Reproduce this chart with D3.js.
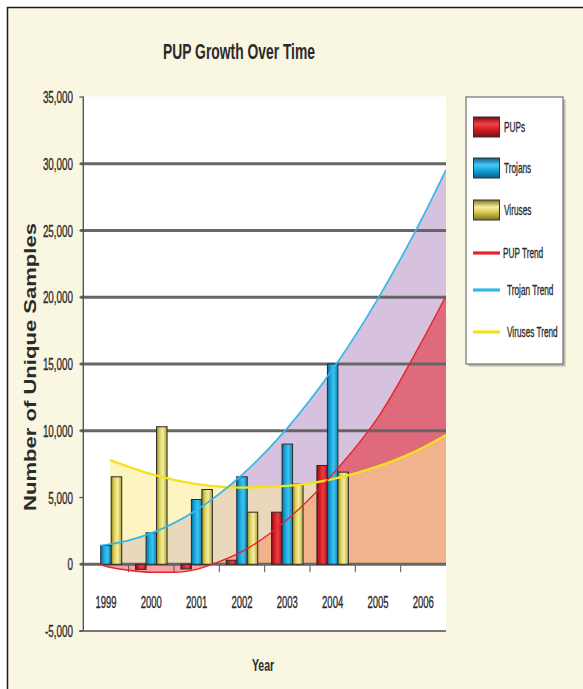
<!DOCTYPE html>
<html>
<head>
<meta charset="utf-8">
<script src="https://cdn.jsdelivr.net/npm/d3@7"></script>
<style>
  html, body { margin: 0; padding: 0; background: #ffffff; }
  svg { display: block; }
  text { font-family: "Liberation Sans", Arial, sans-serif; fill: #2b2b2b; }
  .thick { stroke: #2b2b2b; stroke-width: 0.35px; }
</style>
</head>
<body>
<svg id="chart" width="583" height="689"></svg>
<script>
// ---- data ----
const years = [1999, 2000, 2001, 2002, 2003, 2004, 2005, 2006];
const seriesNames = ["PUPs", "Trojans", "Viruses"];
const pupValues = [0, -380, -350, 300, 3900, 7400, null, null];
const trojanValues = [1400, 2350, 4850, 6550, 9000, 15000, null, null];
const virusValues = [6550, 10300, 5600, 3900, 6000, 6900, null, null];

// trend curves: [year position, value]
const pupTrend = [[1998.87, 0], [1999, -150], [1999.5, -450], [2000, -600], [2000.5, -600],
  [2001, -380], [2001.5, 200], [2002, 950], [2003, 3350], [2004, 6750], [2005, 11000],
  [2006, 16900], [2006.5, 20100]];
const trojanTrend = [[1998.89, 1420], [1999, 1460], [2000, 2330], [2001, 4070], [2002, 6700],
  [2003, 10200], [2004, 14600], [2005, 19900], [2006, 26100], [2006.5, 29550]];
const virusTrend = [[1999.09, 7800], [2000, 6750], [2001, 6000], [2002, 5740], [2003, 5870],
  [2004, 6380], [2005, 7330], [2006, 8750], [2006.5, 9680]];

const yTicks = [-5000, 0, 5000, 10000, 15000, 20000, 25000, 30000, 35000];
const gridValues = [0, 10000, 15000, 20000, 25000, 30000];
const legendItems = [
  { label: "PUPs", kind: "bar", key: "pup" },
  { label: "Trojans", kind: "bar", key: "trojan" },
  { label: "Viruses", kind: "bar", key: "virus" },
  { label: "PUP Trend", kind: "line", key: "pup" },
  { label: "Trojan Trend", kind: "line", key: "trojan" },
  { label: "Viruses Trend", kind: "line", key: "virus" }
];

// ---- layout ----
const W = 583, H = 689;
const plot = { left: 83.3, right: 446, top: 96.5, bottom: 631 };
const lineColor = { pup: "#e8232e", trojan: "#33b8e8", virus: "#f6e11c" };
const lineWidth = { pup: 1.4, trojan: 1.7, virus: 2.3 };

const svg = d3.select("#chart");
const defs = svg.append("defs");

// helper for condensed text
function ctext(g, str, x, y, size, sx, anchor, weight) {
  return g.append("text")
    .attr("class", weight === "bold" ? null : "thick")
    .attr("transform", `translate(${x},${y}) scale(${sx},1)`)
    .attr("text-anchor", anchor || "start")
    .attr("font-size", size)
    .attr("font-weight", weight || "normal")
    .text(str);
}

// page frame
svg.append("rect").attr("x", 0).attr("y", 0).attr("width", W).attr("height", H).attr("fill", "#ffffff");
svg.append("rect").attr("x", 7.5).attr("y", 7.5).attr("width", W + 10).attr("height", H + 10)
  .attr("fill", "#f9f6e1").attr("stroke", "#1e1e1e").attr("stroke-width", 1.5);

// scales
const x = d3.scaleBand().domain(years).range([plot.left, plot.right]).padding(0);
const bw = x.bandwidth();
const xl = d3.scaleLinear().domain([1999, 2006])
  .range([x(1999) + bw / 2, x(2006) + bw / 2]);
const y = d3.scaleLinear().domain([-5000, 35000]).range([plot.bottom, plot.top + 0.5]);
const groupW = 31.5;
const xs = d3.scaleBand().domain(seriesNames).range([-groupW / 2, groupW / 2]).padding(0);

// plot background
svg.append("rect").attr("x", plot.left).attr("y", plot.top)
  .attr("width", plot.right - plot.left).attr("height", plot.bottom - plot.top)
  .attr("fill", "#ffffff");

// trend areas
const area = d3.area().x(d => xl(d[0])).y0(y(0)).y1(d => y(d[1])).curve(d3.curveMonotoneX);
const line = d3.line().x(d => xl(d[0])).y(d => y(d[1])).curve(d3.curveMonotoneX);

defs.append("clipPath").attr("id", "clipTrojan").append("path").attr("d", area(trojanTrend));
defs.append("clipPath").attr("id", "clipVirus").append("path").attr("d", area(virusTrend));
defs.append("clipPath").attr("id", "clipAbove").append("rect")
  .attr("x", plot.left).attr("y", plot.top).attr("width", plot.right - plot.left).attr("height", y(0) - plot.top);
defs.append("clipPath").attr("id", "clipBelow").append("rect")
  .attr("x", plot.left).attr("y", y(0)).attr("width", plot.right - plot.left).attr("height", plot.bottom - y(0));
defs.append("clipPath").attr("id", "clipPlot").append("rect")
  .attr("x", plot.left).attr("y", plot.top).attr("width", plot.right - plot.left).attr("height", plot.bottom - plot.top);

const fills = svg.append("g").attr("clip-path", "url(#clipPlot)");
fills.append("path").attr("d", area(trojanTrend)).attr("fill", "#d6c2de");
fills.append("path").attr("d", area(virusTrend)).attr("fill", "#fcf5c2");
fills.append("path").attr("d", area(virusTrend)).attr("fill", "#e9d8bc").attr("clip-path", "url(#clipTrojan)");
const above = fills.append("g").attr("clip-path", "url(#clipAbove)");
above.append("path").attr("d", area(pupTrend)).attr("fill", "#de6a7b");
above.append("path").attr("d", area(pupTrend)).attr("fill", "#f0b38b").attr("clip-path", "url(#clipVirus)");
fills.append("g").attr("clip-path", "url(#clipBelow)")
  .append("path").attr("d", area(pupTrend)).attr("fill", "#f5a3a7");

// gridlines
svg.append("g").selectAll("line").data(gridValues).join("line")
  .attr("x1", plot.left - 3).attr("x2", plot.right)
  .attr("y1", d => y(d)).attr("y2", d => y(d))
  .attr("stroke", "#666666").attr("stroke-width", 2.8);

// category ticks along the zero line
svg.append("g").selectAll("line").data(years.slice(1)).join("line")
  .attr("x1", d => x(d)).attr("x2", d => x(d))
  .attr("y1", y(0) + 1).attr("y2", y(0) + 8)
  .attr("stroke", "#555").attr("stroke-width", 1);

// bar gradients
function hGrad(id, stops) {
  const g = defs.append("linearGradient").attr("id", id).attr("x1", 0).attr("x2", 1).attr("y1", 0).attr("y2", 0);
  stops.forEach(s => g.append("stop").attr("offset", s[0]).attr("stop-color", s[1]));
}
function vGrad(id, stops) {
  const g = defs.append("linearGradient").attr("id", id).attr("x1", 0).attr("x2", 0).attr("y1", 0).attr("y2", 1);
  stops.forEach(s => g.append("stop").attr("offset", s[0]).attr("stop-color", s[1]));
}
hGrad("gPup", [[0, "#8e0d12"], [0.3, "#d71f28"], [0.6, "#ee3d44"], [1, "#a3131b"]]);
hGrad("gTrojan", [[0, "#0a6d9c"], [0.3, "#16a6de"], [0.6, "#3fc3f0"], [1, "#0c86b8"]]);
hGrad("gVirus", [[0, "#968a22"], [0.3, "#ddd25c"], [0.6, "#f4eea2"], [1, "#b0a334"]]);
vGrad("lPup", [[0, "#7a0a0e"], [0.35, "#f2424a"], [0.6, "#d71f28"], [1, "#7d0b10"]]);
vGrad("lTrojan", [[0, "#0a5d86"], [0.35, "#4cc8f2"], [0.6, "#16a6de"], [1, "#0a5d86"]]);
vGrad("lVirus", [[0, "#7d7318"], [0.35, "#f4eea2"], [0.6, "#d8cc55"], [1, "#7d7318"]]);

const barSeries = [
  { name: "PUPs", values: pupValues, fill: "url(#gPup)" },
  { name: "Trojans", values: trojanValues, fill: "url(#gTrojan)" },
  { name: "Viruses", values: virusValues, fill: "url(#gVirus)" }
];
const bars = svg.append("g");
barSeries.forEach(s => {
  const pts = years.map((yr, i) => ({ yr, v: s.values[i] })).filter(d => d.v !== null && d.v !== 0);
  bars.append("g").selectAll("rect").data(pts).join("rect")
    .attr("x", d => x(d.yr) + bw / 2 + xs(s.name))
    .attr("width", xs.bandwidth())
    .attr("y", d => Math.min(y(d.v), y(0)))
    .attr("height", d => Math.abs(y(d.v) - y(0)))
    .attr("fill", s.fill)
    .attr("stroke", "#2a2a2a").attr("stroke-width", 1);
});

// trend lines
const trendG = svg.append("g").attr("clip-path", "url(#clipPlot)").attr("fill", "none");
trendG.append("path").attr("d", line(virusTrend)).attr("stroke", lineColor.virus).attr("stroke-width", lineWidth.virus);
trendG.append("path").attr("d", line(trojanTrend)).attr("stroke", lineColor.trojan).attr("stroke-width", lineWidth.trojan);
trendG.append("path").attr("d", line(pupTrend)).attr("stroke", lineColor.pup).attr("stroke-width", lineWidth.pup);

// axes frame
svg.append("line").attr("x1", plot.left).attr("x2", plot.left).attr("y1", plot.top).attr("y2", plot.bottom + 1)
  .attr("stroke", "#555").attr("stroke-width", 1.4);
svg.append("line").attr("x1", plot.left - 4).attr("x2", plot.right).attr("y1", plot.bottom).attr("y2", plot.bottom)
  .attr("stroke", "#777").attr("stroke-width", 2.2);
svg.append("g").selectAll("line").data(yTicks).join("line")
  .attr("x1", plot.left - 4).attr("x2", plot.left)
  .attr("y1", d => y(d)).attr("y2", d => y(d))
  .attr("stroke", "#555").attr("stroke-width", 1.2);

// y tick labels (plain hyphen for negatives)
const fmt = v => d3.format(",")(Math.abs(v)).replace(/^/, v < 0 ? "-" : "");
const yLab = svg.append("g");
yTicks.forEach(v => ctext(yLab, fmt(v), 73, y(v) + 6, 17, 0.58, "end"));

// x tick labels
const xLab = svg.append("g");
years.forEach(yr => ctext(xLab, String(yr), x(yr) + bw / 2, 608, 17, 0.56, "middle"));

// titles
ctext(svg, "PUP Growth Over Time", 239, 59, 21.5, 0.645, "middle", "bold");
ctext(svg, "Year", 263, 671, 17, 0.62, "middle", "bold");
svg.append("text")
  .attr("transform", "translate(36,367) rotate(-90)")
  .attr("text-anchor", "middle")
  .attr("font-size", 16.5).attr("font-weight", "bold")
  .attr("textLength", 288).attr("lengthAdjust", "spacingAndGlyphs")
  .text("Number of Unique Samples");

// legend
const lg = svg.append("g");
lg.append("rect").attr("x", 467).attr("y", 98).attr("width", 97).attr("height", 267)
  .attr("fill", "#b9b9b0").attr("transform", "translate(1.5,1.5)");
lg.append("rect").attr("x", 466).attr("y", 97).attr("width", 97).attr("height", 267)
  .attr("fill", "#ffffff").attr("stroke", "#7a7a7a").attr("stroke-width", 1.3);
const legendRowY = [127, 168, 210, 253, 290, 332];
const legendTextX = [504, 504, 504, 503, 507, 507];
const swatchFill = { pup: "url(#lPup)", trojan: "url(#lTrojan)", virus: "url(#lVirus)" };
legendItems.forEach((it, i) => {
  const cy = legendRowY[i];
  if (it.kind === "bar") {
    lg.append("rect").attr("x", 473.5).attr("y", cy - 10).attr("width", 26).attr("height", 20)
      .attr("fill", swatchFill[it.key]).attr("stroke", "#333").attr("stroke-width", 1);
  } else {
    lg.append("line").attr("x1", 473).attr("x2", 500).attr("y1", cy).attr("y2", cy)
      .attr("stroke", lineColor[it.key]).attr("stroke-width", 3.2);
  }
  ctext(lg, it.label, legendTextX[i], cy + 5, 15, 0.55, "start");
});
</script>
</body>
</html>
